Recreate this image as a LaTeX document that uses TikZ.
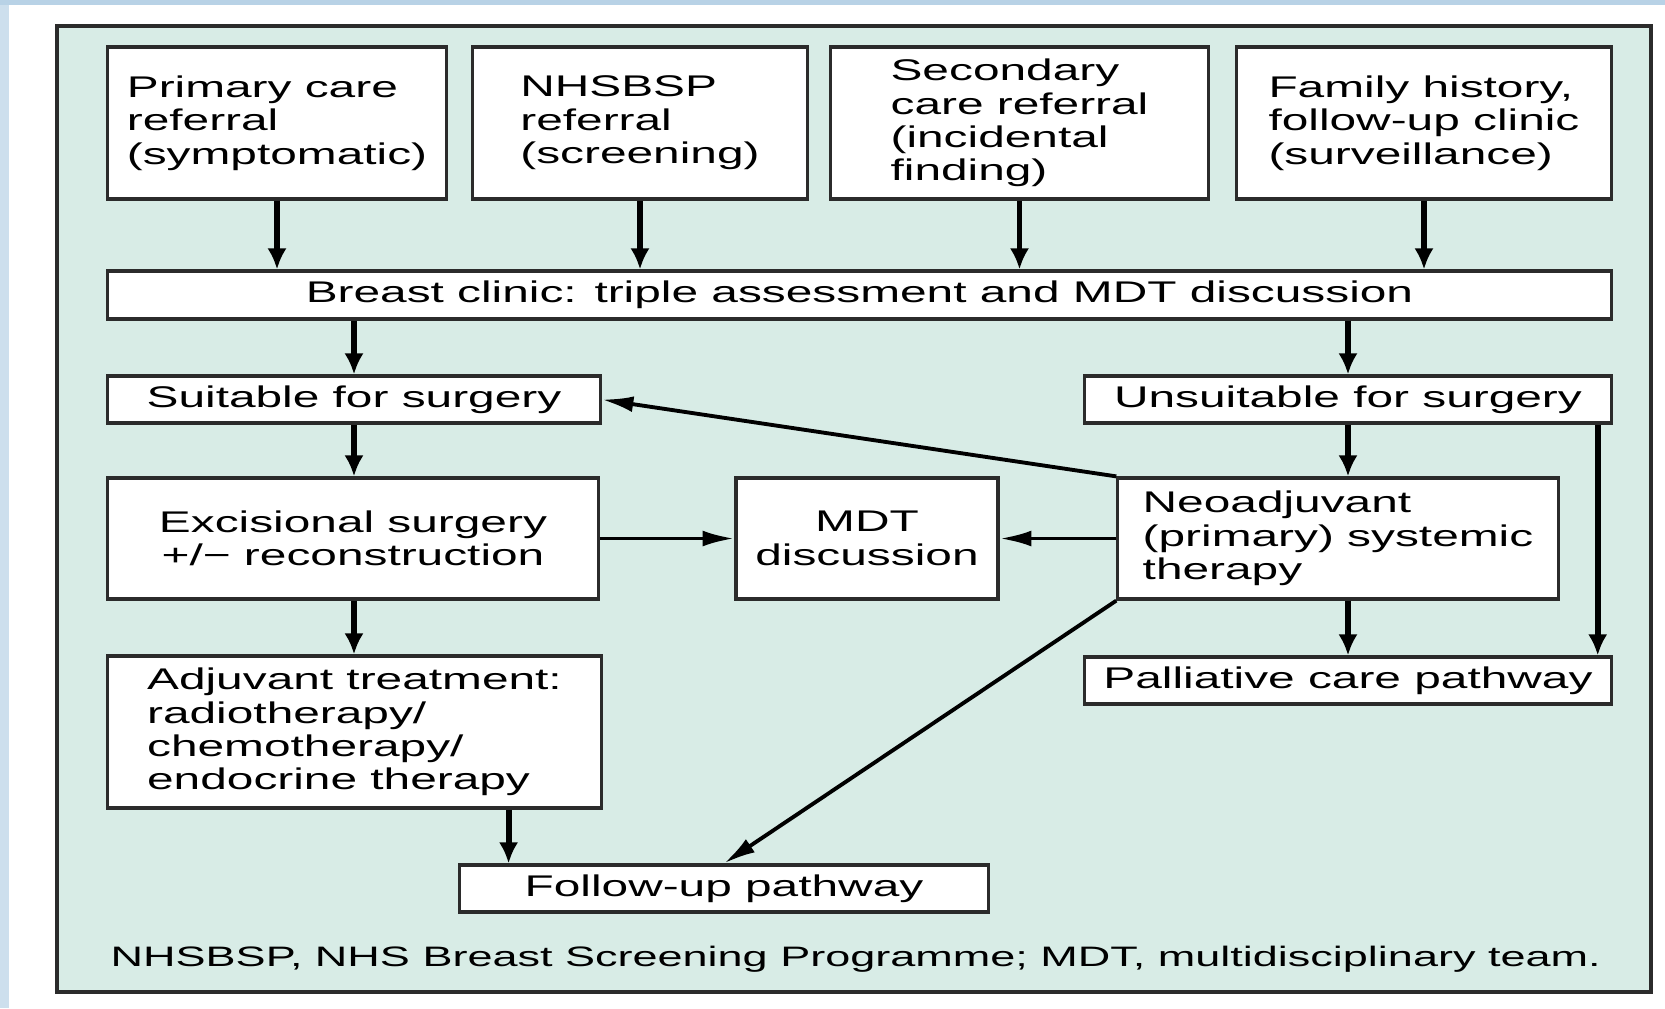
\documentclass[tikz,border=0pt]{standalone}
\usepackage{fontspec}
\setmainfont{Liberation Sans}[FakeStretch=1.6]
\usepackage{tikz}
\usetikzlibrary{arrows.meta}
\definecolor{panelgreen}{HTML}{D8ECE6}
\definecolor{edgeblue}{HTML}{B8D2E6}
\definecolor{boxline}{HTML}{2B2B2B}

\begin{document}
\begin{tikzpicture}[x=0.01cm, y=-0.01cm,
    box/.style={draw=boxline, fill=white, line width=0.9pt, inner sep=0pt, font=\fontsize{8.5pt}{9.5pt}\selectfont},
    fatarrow/.style={draw=black, line width=1.7pt, -{Latex[length=6pt, width=5.5pt]}},
    thinarrow/.style={draw=black, line width=1.1pt, -{Latex[length=9pt, width=4.5pt]}}]
      \useasboundingbox (0,0) rectangle (1665,1008);
      \fill[white] (0,0) rectangle (1665,1008);
      \fill[edgeblue] (0,0) rectangle (1665,5);
      \fill[edgeblue!70] (0,5) rectangle (9,1008);
      \draw[fill=panelgreen, draw=boxline, line width=1.2pt] (57,26) rectangle (1651,992);
      \node[box, align=left, minimum width=3.38cm, minimum height=1.52cm] (primary) at (277,123) {Primary care\\referral\\(symptomatic)};
      \node[box, align=left, minimum width=3.34cm, minimum height=1.52cm] (nhsbsp) at (640,123) {NHSBSP\\referral\\(screening)};
      \node[box, align=left, minimum width=3.77cm, minimum height=1.52cm] (secondary) at (1019.5,123) {Secondary\\care referral\\(incidental\\finding)};
      \node[box, align=left, minimum width=3.74cm, minimum height=1.52cm] (family) at (1424,123) {Family history,\\follow-up clinic\\(surveillance)};
      \node[box, minimum width=15.03cm, minimum height=0.48cm] (clinic) at (859.5,295) {Breast clinic: triple assessment and MDT discussion};
      \node[box, minimum width=4.92cm, minimum height=0.47cm] (suitable) at (354,399.5) {Suitable for surgery};
      \node[box, minimum width=5.26cm, minimum height=0.47cm] (unsuitable) at (1348,399.5) {Unsuitable for surgery};
      \node[box, align=center, minimum width=4.90cm, minimum height=1.21cm] (excision) at (353,538.5) {Excisional surgery\\+/− reconstruction};
      \node[box, align=center, minimum width=2.62cm, minimum height=1.21cm] (mdt) at (867,538.5) {MDT\\discussion};
      \node[box, align=left, minimum width=4.40cm, minimum height=1.21cm] (neoadj) at (1338,538.5) {Neoadjuvant\\(primary) systemic\\therapy};
      \node[box, minimum width=5.26cm, minimum height=0.47cm] (palliative) at (1348,680.5) {Palliative care pathway};
      \node[box, align=left, minimum width=4.93cm, minimum height=1.52cm] (adjuvant) at (354.5,732) {Adjuvant treatment:\\radiotherapy/\\chemotherapy/\\endocrine therapy};
      \node[box, minimum width=5.28cm, minimum height=0.47cm] (followup) at (724,888.5) {Follow-up pathway};
      \node[anchor=base west, inner sep=0pt, font=\fontsize{8pt}{9pt}\selectfont] (note) at (110,966) {NHSBSP, NHS Breast Screening Programme; MDT, multidisciplinary team.};
      \draw[fatarrow] (primary.south) -- (primary.south |- clinic.north);
      \draw[fatarrow] (nhsbsp.south) -- (nhsbsp.south |- clinic.north);
      \draw[fatarrow] (secondary.south) -- (secondary.south |- clinic.north);
      \draw[fatarrow] (family.south) -- (family.south |- clinic.north);
      \draw[fatarrow] (suitable.north |- clinic.south) -- (suitable.north);
      \draw[fatarrow] (unsuitable.north |- clinic.south) -- (unsuitable.north);
      \draw[fatarrow] (suitable.south) -- (suitable.south |- excision.north);
      \draw[fatarrow] (unsuitable.south) -- (unsuitable.south |- neoadj.north);
      \draw[fatarrow] (palliative.north |- neoadj.south) -- (palliative.north);
      \draw[fatarrow] ([xshift=-0.15cm]unsuitable.south east) -- ([xshift=-0.15cm]palliative.north east);
      \draw[fatarrow] (excision.south -| suitable.south) -- (suitable.south |- adjuvant.north);
      \draw[fatarrow] ([xshift=1.54cm]adjuvant.south) -- ([xshift=1.54cm]adjuvant.south |- followup.north);
      \draw[thinarrow] (excision.east) -- (mdt.west);
      \draw[thinarrow] (neoadj.west) -- (mdt.east);
      \draw[thinarrow] (neoadj.north west) -- (suitable.east);
      \draw[thinarrow] (neoadj.south west) -- (followup.north);
    \end{tikzpicture}
\end{document}
